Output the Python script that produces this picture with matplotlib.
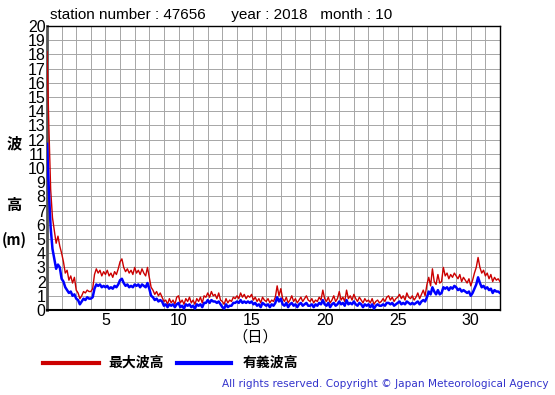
import numpy as np
import matplotlib
matplotlib.use('Agg')
import matplotlib.pyplot as plt

plt.rcParams['font.family'] = ['Liberation Sans', 'Noto Sans CJK JP', 'DejaVu Sans']

# wave heights (m), every 3 hours, one row per day (Oct 1 .. Oct 31) + Nov 1 00h
max_wave = [
    18.2, 13.0, 8.5, 6.5, 5.6, 4.7, 5.2, 4.5,
    4.0, 3.4, 2.6, 2.8, 2.1, 2.4, 1.9, 2.3,
    1.4, 1.2, 0.8, 1.0, 1.3, 1.2, 1.4, 1.3,
    1.3, 1.5, 2.5, 2.9, 2.6, 2.8, 2.4, 2.7,
    2.5, 2.8, 2.4, 2.6, 2.3, 2.7, 2.5, 2.9,
    3.4, 3.6, 3.0, 2.7, 2.9, 2.6, 2.8, 2.5,
    3.0, 2.6, 2.8, 2.5, 2.9, 2.6, 2.4, 3.0,
    2.3, 1.6, 1.4, 1.1, 1.3, 1.0, 1.2, 0.9,
    0.6, 0.7, 0.4, 0.8, 0.5, 0.7, 0.4, 0.9,
    1.0, 0.5, 0.7, 0.4, 0.8, 0.6, 0.9, 0.5,
    0.7, 0.4, 0.8, 0.6, 0.9, 0.5, 1.0, 0.9,
    1.2, 0.9, 1.3, 1.0, 1.1, 0.8, 1.2, 0.7,
    0.6, 0.4, 0.8, 0.5, 0.7, 0.6, 0.9, 0.8,
    1.0, 0.8, 1.2, 0.9, 1.1, 0.8, 1.0, 0.9,
    1.1, 0.7, 0.9, 0.6, 0.8, 0.5, 0.9, 0.7,
    0.6, 0.8, 0.5, 0.7, 0.6, 0.9, 1.7, 1.0,
    1.5, 0.8, 0.6, 0.9, 0.5, 0.7, 1.0, 0.6,
    0.8, 0.5, 0.7, 0.9, 0.6, 0.8, 1.0, 0.7,
    0.6, 0.8, 0.5, 0.7, 0.6, 0.9, 0.7, 1.4,
    0.8, 0.6, 0.9, 0.5, 0.7, 1.0, 0.6, 0.8,
    1.3, 0.7, 0.9, 0.6, 1.4, 0.8, 1.0, 0.7,
    1.1, 0.8, 0.6, 0.9, 0.7, 0.5, 0.8, 0.6,
    0.7, 0.5, 0.8, 0.4, 0.6, 0.7, 0.5, 0.6,
    0.8, 0.6, 0.9, 1.0, 0.7, 0.9, 0.6, 0.8,
    0.9, 1.1, 0.8, 1.0, 0.7, 1.2, 0.9, 0.8,
    1.0, 0.7, 0.9, 1.2, 0.8, 1.1, 1.4, 1.0,
    1.8, 2.3, 1.7, 2.9, 2.0, 1.8, 2.5, 1.9,
    2.0, 3.0, 2.4, 2.6, 2.2, 2.5, 2.3, 2.6,
    2.4, 2.2, 2.5, 2.0, 2.3, 2.1, 1.9, 2.2,
    1.7, 2.1, 2.6, 3.0, 3.7, 3.0, 2.6, 2.8,
    2.4, 2.6, 2.2, 2.5, 2.0, 2.3, 2.1, 2.2,
    2.0,
]

sig_wave = [
    11.7, 8.5, 5.8, 4.3, 3.6, 2.9, 3.2, 3.0,
    2.2, 2.0, 1.6, 1.4, 1.2, 1.3, 1.0, 1.1,
    0.8, 0.7, 0.4, 0.6, 0.8, 0.7, 0.9, 0.8,
    0.8, 0.9, 1.5, 1.8, 1.7, 1.8, 1.6, 1.7,
    1.6, 1.7, 1.5, 1.6, 1.5, 1.7, 1.6, 1.8,
    2.1, 2.2, 1.9, 1.7, 1.8, 1.6, 1.7, 1.6,
    1.8, 1.7, 1.8, 1.6, 1.8, 1.7, 1.6, 1.9,
    1.5, 1.0, 0.9, 0.7, 0.8, 0.6, 0.7, 0.6,
    0.3, 0.4, 0.2, 0.4, 0.3, 0.4, 0.2, 0.4,
    0.5, 0.2, 0.3, 0.1, 0.4, 0.3, 0.4, 0.2,
    0.3, 0.1, 0.4, 0.3, 0.4, 0.2, 0.5, 0.5,
    0.7, 0.5, 0.7, 0.6, 0.6, 0.5, 0.6, 0.4,
    0.2, 0.1, 0.4, 0.2, 0.3, 0.3, 0.5, 0.5,
    0.6, 0.5, 0.7, 0.5, 0.6, 0.5, 0.6, 0.5,
    0.6, 0.4, 0.5, 0.3, 0.4, 0.2, 0.5, 0.4,
    0.3, 0.4, 0.2, 0.4, 0.3, 0.5, 0.9, 0.6,
    0.8, 0.4, 0.3, 0.5, 0.2, 0.4, 0.5, 0.3,
    0.4, 0.2, 0.4, 0.5, 0.3, 0.4, 0.5, 0.3,
    0.3, 0.4, 0.2, 0.4, 0.3, 0.5, 0.4, 0.7,
    0.4, 0.3, 0.5, 0.2, 0.4, 0.5, 0.3, 0.4,
    0.6, 0.4, 0.5, 0.3, 0.7, 0.4, 0.5, 0.4,
    0.6, 0.4, 0.3, 0.5, 0.4, 0.2, 0.4, 0.3,
    0.4, 0.2, 0.4, 0.1, 0.3, 0.4, 0.3, 0.3,
    0.4, 0.3, 0.5, 0.5, 0.4, 0.5, 0.3, 0.4,
    0.5, 0.6, 0.4, 0.5, 0.4, 0.6, 0.5, 0.4,
    0.5, 0.4, 0.5, 0.6, 0.4, 0.6, 0.7, 0.6,
    0.9, 1.3, 1.1, 1.6, 1.3, 1.1, 1.4, 1.1,
    1.2, 1.6, 1.5, 1.6, 1.4, 1.6, 1.5, 1.7,
    1.6, 1.4, 1.5, 1.3, 1.4, 1.3, 1.2, 1.3,
    1.0, 1.2, 1.5, 1.8, 2.3, 1.9, 1.6, 1.7,
    1.5, 1.6, 1.4, 1.5, 1.2, 1.4, 1.3, 1.3,
    1.2,
]

day_ticks = [5, 10, 15, 20, 25, 30]
height_ticks = list(range(0, 21))

# time axis in days, 3-hour steps starting at day 1 00h
t = 1 + np.arange(len(max_wave)) * 0.125

fig = plt.figure(figsize=(5.55, 3.95), dpi=100)
ax = fig.add_axes([47 / 555, 1 - 310 / 395, 453 / 555, 284 / 395])

ax.plot(t, max_wave, color='#cc0000', lw=1.0, zorder=3)
ax.plot(t, sig_wave, color='#0000ff', lw=1.8, zorder=4)

ax.set_xlim(1, 32)
ax.set_ylim(0, 20)
ax.set_xticks(np.arange(1, 33), minor=True)
ax.set_xticks(day_ticks)
ax.set_yticks(height_ticks)
ax.grid(True, which='both', color='#a6a6a6', lw=0.7)
ax.set_axisbelow(True)
ax.tick_params(which='both', length=0, labelsize=11.5, pad=2)
ax.tick_params(axis='y', pad=1)
for s in ['top', 'right']:
    ax.spines[s].set_linewidth(1.0)
ax.spines['left'].set_linewidth(2.0)
ax.spines['left'].set_color('#555555')
ax.spines['bottom'].set_linewidth(1.5)

fig.text(50 / 555, 1 - 15 / 395, 'station number : 47656      year : 2018   month : 10',
         fontsize=11, va='center', ha='left')

jp = ['Noto Sans CJK JP', 'DejaVu Sans']
fig.text(14 / 555, 1 - 143 / 395, '波', family=jp, fontsize=11, fontweight='bold',
         ha='center', va='center')
fig.text(14 / 555, 1 - 205 / 395, '高', family=jp, fontsize=11, fontweight='bold',
         ha='center', va='center')
fig.text(14 / 555, 1 - 240 / 395, '(m)', family=jp, fontsize=10.5, fontweight='bold',
         ha='center', va='center')
fig.text(255 / 555, 1 - 337 / 395, '（日）', family=jp, fontsize=11, ha='center', va='center')

# legend drawn under the axes
fig.add_artist(plt.Line2D([43 / 555, 99 / 555], [1 - 363 / 395] * 2, color='#cc0000', lw=3))
fig.text(108 / 555, 1 - 363 / 395, '最大波高', family=jp, fontsize=10, fontweight='bold',
         va='center', ha='left')
fig.add_artist(plt.Line2D([177 / 555, 231 / 555], [1 - 363 / 395] * 2, color='#0000ff', lw=3))
fig.text(243 / 555, 1 - 363 / 395, '有義波高', family=jp, fontsize=10, fontweight='bold',
         va='center', ha='left')

fig.text(549 / 555, 1 - 384 / 395, 'All rights reserved. Copyright © Japan Meteorological Agency',
         fontsize=7.6, color='#3333cc', ha='right', va='center', family=['DejaVu Sans'])

fig.savefig('out.png', dpi=100)
